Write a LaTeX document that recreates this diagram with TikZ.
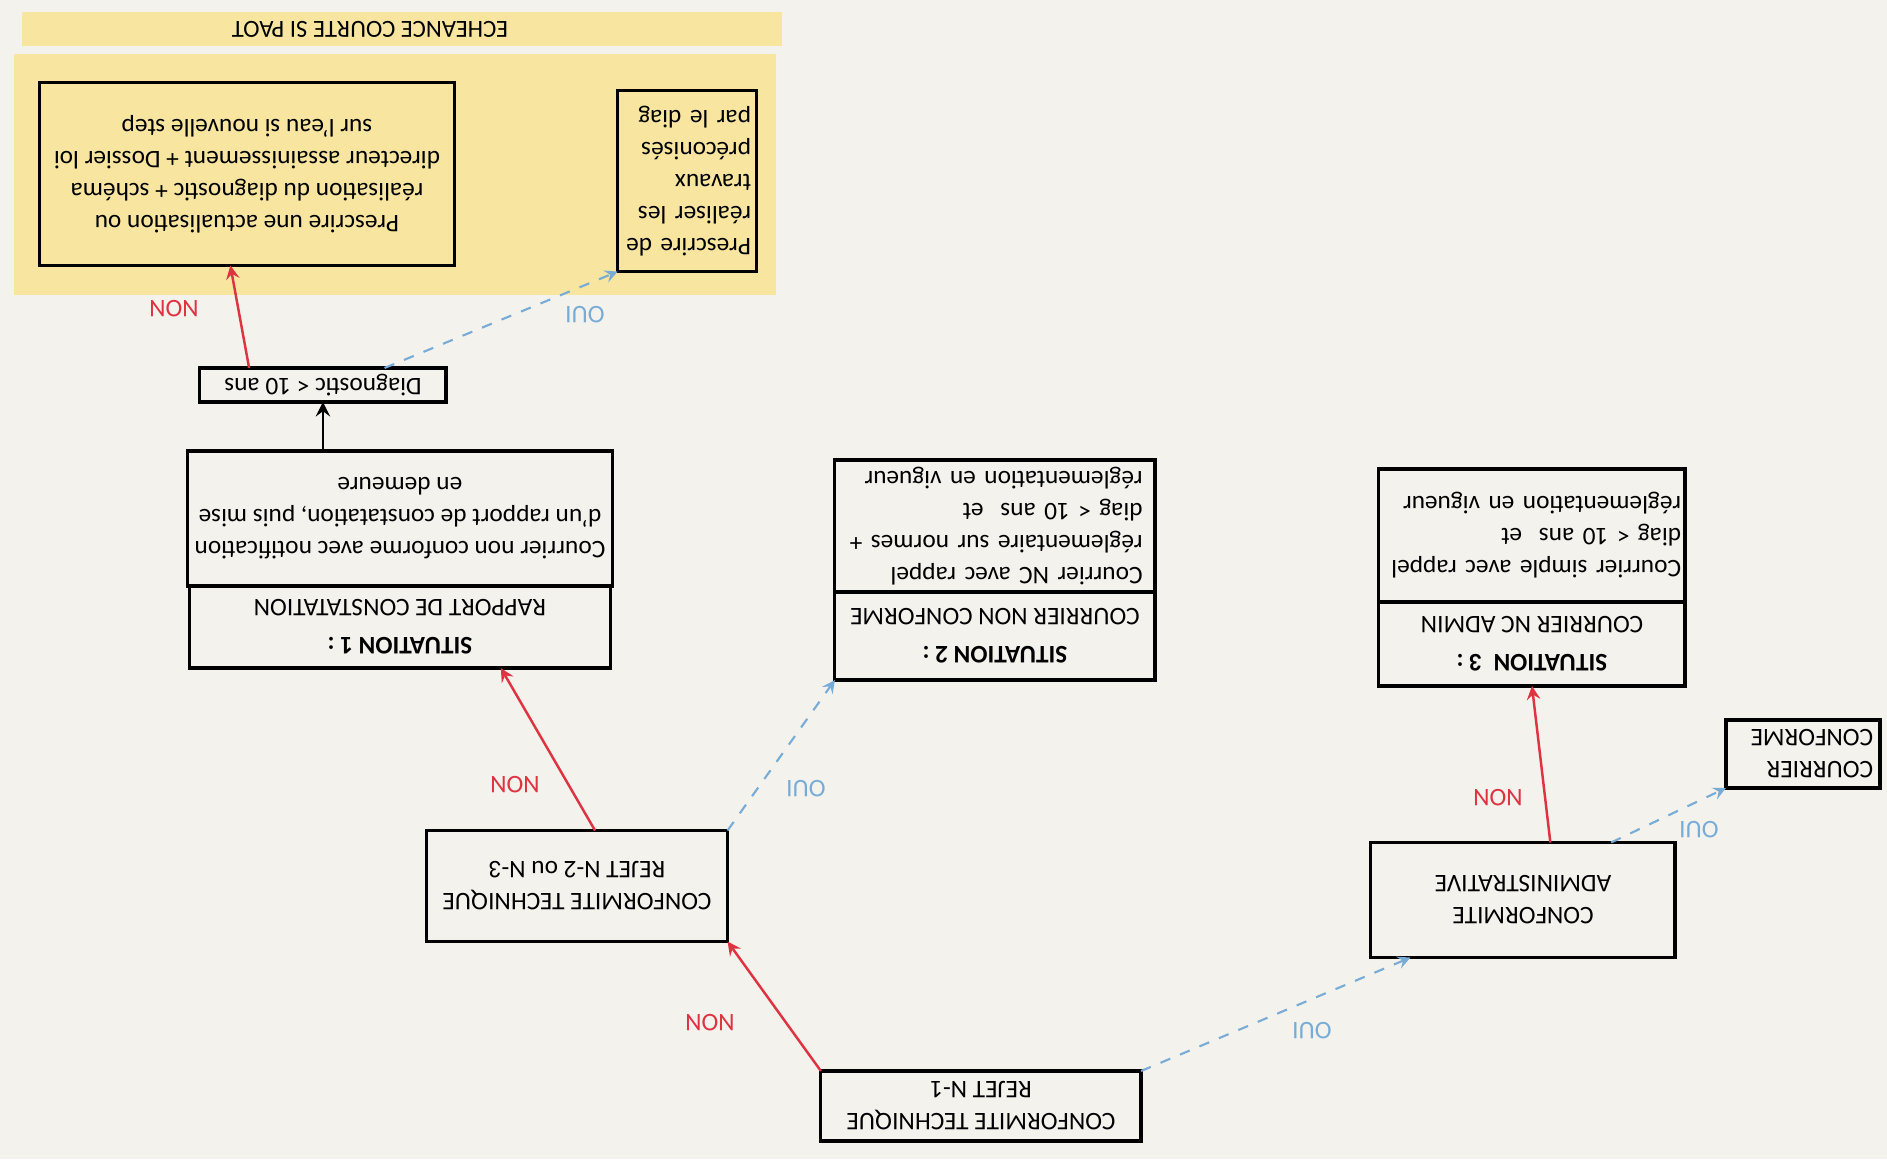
\documentclass[tikz,border=0pt]{standalone}
\usepackage{fontspec}
\setmainfont{Carlito}
\usetikzlibrary{positioning,arrows,calc}

\definecolor{paper}{RGB}{243,242,237}
\definecolor{band}{RGB}{247,229,160}
\definecolor{nonred}{RGB}{222,52,66}
\definecolor{ouiblue}{RGB}{120,172,214}

\begin{document}
\begin{tikzpicture}[x=0.01cm, y=0.01cm, rotate=180, transform shape, > = stealth,
box/.style={ rectangle, draw, line width=0.9pt, inner sep=2pt, outer sep=0pt, align=center, font=\fontsize{7.2}{9.1}\selectfont },
head/.style={ box, font=\fontsize{7.2}{10.8}\selectfont },
non/.style={ ->, nonred, line width=0.7pt },
oui/.style={ ->, ouiblue, dashed, line width=0.6pt },
nonlab/.style={ text=nonred, font=\fontsize{7.2}{9}\selectfont },
ouilab/.style={ text=ouiblue, font=\fontsize{7.2}{9}\selectfont }]

\useasboundingbox (0,0) rectangle (1887,1159);
\fill [paper] (0,0) rectangle (1887,1159);

%yellow band
\fill [band] (1105,12) rectangle (1865,46);
\fill [band] (1111,54) rectangle (1873,295);
\node (echeance) [font=\fontsize{7}{8}\selectfont] at (1517,29) {ECHEANCE COURTE SI PAOT};

%checks
\node (n1) [box, minimum width=3.2cm, minimum height=0.7cm] at (906,1106) {CONFORMITE TECHNIQUE\\REJET N-1};
\node (n23) [box, minimum width=3.01cm, minimum height=1.11cm] at (1310,886) {CONFORMITE TECHNIQUE\\REJET N-2 ou N-3};
\node (admin) [box, minimum width=3.04cm, minimum height=1.15cm] at (364,900) {CONFORMITE\\ADMINISTRATIVE};
\node (conforme) [box, align=left, text width=1.4cm, minimum width=1.53cm, minimum height=0.68cm] at (84,754) {COURRIER\\CONFORME};

%situations
\node (sit1head) [head, minimum width=4.2cm, minimum height=0.82cm] at (1487,627) {\textbf{SITUATION 1 :}\\RAPPORT DE CONSTATATION};
\node (sit1body) [box, below=0pt of sit1head, minimum width=4.2cm, minimum height=1.35cm] {Courrier non conforme avec notification\\d'un rapport de constatation, puis mise\\en demeure};
\node (sit2head) [head, minimum width=3.2cm, minimum height=0.88cm] at (892,636) {\textbf{SITUATION 2 :}\\COURRIER NON CONFORME};
\node (sit2body) [box, below=0pt of sit2head, align=left, text width=2.95cm, minimum width=3.2cm, minimum height=1.32cm] {Courrier NC avec rappel\\réglementaire sur normes +\\diag < 10 ans\ \ et\\réglementation en vigueur};
\node (sit3head) [head, minimum width=3.06cm, minimum height=0.84cm] at (355,644) {\textbf{SITUATION\ \ 3 :}\\COURRIER NC ADMIN};
\node (sit3body) [box, below=0pt of sit3head, align=left, inner xsep=1pt, text width=2.98cm, minimum width=3.06cm, minimum height=1.33cm] {Courrier simple avec rappel\\diag < 10 ans\ \ et\\réglementation en vigueur};

%diagnostic and prescriptions
\node (diag) [box, inner sep=1pt, minimum width=2.46cm, minimum height=0.34cm] at (1564,385) {Diagnostic < 10 ans};
\node (prescrire) [box, minimum width=4.15cm, minimum height=1.83cm] at (1640,174) {Prescrire une actualisation ou\\réalisation du diagnostic + schéma\\directeur assainissement + Dossier loi\\sur l'eau si nouvelle step};
\node (travaux) [box, align=left, inner xsep=1.5pt, text width=1.28cm, minimum width=1.35cm, minimum height=1.81cm] at (1200,181) {Prescrire de\\réaliser les\\travaux\\préconisés\\par le diag};

%connectors
\draw [non] (n1.south east) -- (n23.north west);
\draw [oui] (n1.south west) -- ($(admin.north east)!0.13!(admin.north west)$);
\draw [non] ($(n23.south west)!0.44!(n23.south east)$) -- ($(sit1head.north west)!0.26!(sit1head.north east)$);
\draw [oui] (n23.south west) -- (sit2head.north east);
\draw [non] ($(admin.south west)!0.41!(admin.south east)$) -- (sit3head.north);
\draw [oui] ($(admin.south west)!0.21!(admin.south east)$) -- (conforme.north east);
\draw [->, line width=0.8pt] (diag.north |- sit1body.south) -- (diag.north);
\draw [non] ($(diag.south west)!0.8!(diag.south east)$) -- ($(prescrire.north west)!0.54!(prescrire.north east)$);
\draw [oui] ($(diag.south west)!0.25!(diag.south east)$) -- (travaux.north east);

%labels
\node (non1) [nonlab] at (1177,1023) {NON};
\node (oui1) [ouilab] at (575,1031) {OUI};
\node (non2) [nonlab] at (1372,785) {NON};
\node (oui2) [ouilab] at (1081,789) {OUI};
\node (non3) [nonlab] at (389,798) {NON};
\node (oui3) [ouilab] at (188,830) {OUI};
\node (non4) [nonlab] at (1713,309) {NON};
\node (oui4) [ouilab] at (1302,315) {OUI};

\end{tikzpicture}
\end{document}
